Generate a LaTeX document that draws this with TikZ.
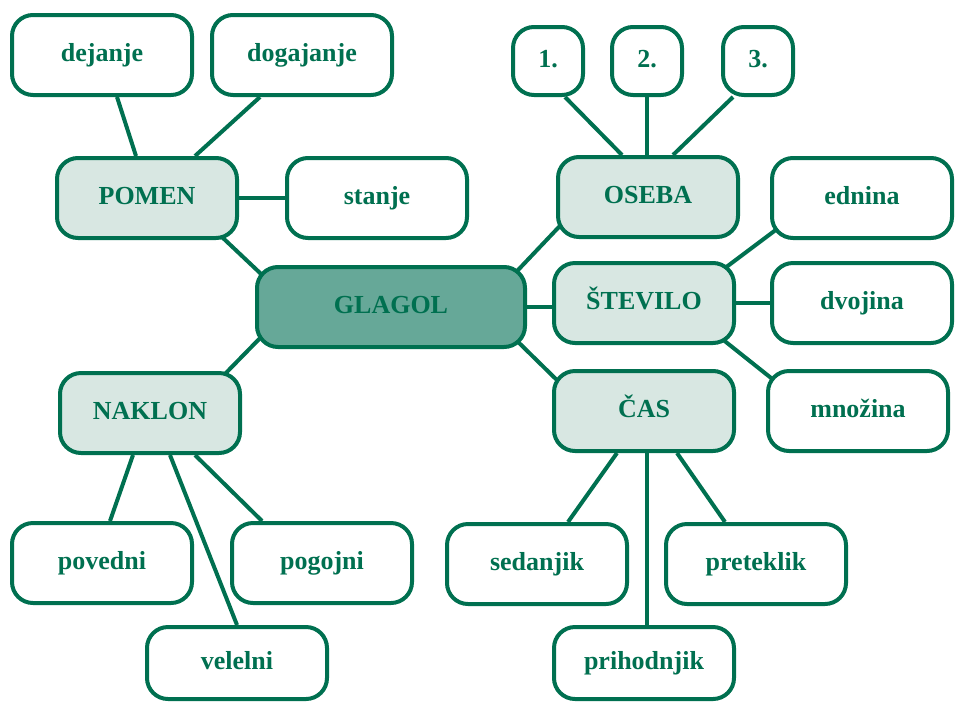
\documentclass[tikz,border=0pt]{standalone}
\usepackage{fontspec}
\setmainfont{Liberation Serif}
\usepackage{xcolor}
\usetikzlibrary{backgrounds}

\definecolor{glagolgreen}{RGB}{0,112,80}
\definecolor{rootfill}{RGB}{102,168,152}
\definecolor{catfill}{RGB}{216,231,226}

\begin{document}
\begin{tikzpicture}[x=1pt,y=-1pt]
    \useasboundingbox (0,0) rectangle (960,702);
    \begin{scope}[line width=4pt,
        box/.style={draw=glagolgreen,rounded corners=21pt,text=glagolgreen,
            font=\fontsize{26}{30}\selectfont\bfseries,
            text height=17pt,text depth=4pt,inner sep=0pt,
            minimum width=180pt,minimum height=80pt},
        leaf/.style={box,fill=white},
        cat/.style={box,fill=catfill},
        root/.style={box,fill=rootfill,minimum width=268pt},
        num/.style={leaf,minimum width=70pt,minimum height=68pt},
        link/.style={draw=glagolgreen,line width=4pt}]
    % Middle:
    \node [root] (glagol) at (391,307) {GLAGOL};

    % The four groups round it:
    \node [cat] (pomen)   at (147,198) {POMEN};
    \node [cat] (naklon)  at (150,413) {NAKLON};
    \node [cat] (oseba)   at (648,197) {OSEBA};
    \node [cat] (stevilo) at (644,303) {ŠTEVILO};
    \node [cat] (cas)     at (644,411) {ČAS};

    % POMEN:
    \node [leaf] (dejanje)   at (102,55)  {dejanje};
    \node [leaf] (dogajanje) at (302,55)  {dogajanje};
    \node [leaf] (stanje)    at (377,198) {stanje};

    % NAKLON:
    \node [leaf] (povedni) at (102,563) {povedni};
    \node [leaf] (pogojni) at (322,563) {pogojni};
    \node [leaf,minimum height=72pt] (velelni) at (237,663) {velelni};

    % OSEBA:
    \node [num] (prva)  at (548,61) {1.};
    \node [num] (druga) at (647,61) {2.};
    \node [num] (treta) at (758,61) {3.};

    % ŠTEVILO:
    \node [leaf] (ednina)  at (862,198) {ednina};
    \node [leaf] (dvojina) at (862,303) {dvojina};
    \node [leaf] (mnozina) at (858,411) {množina};

    % ČAS:
    \node [leaf] (sedanjik)   at (537,564) {sedanjik};
    \node [leaf] (preteklik)  at (756,564) {preteklik};
    \node [leaf,minimum height=72pt] (prihodnjik) at (644,663) {prihodnjik};

    % Connectors go behind the boxes:
    \begin{pgfonlayer}{background}
    \draw [link] ([xshift=15pt]dejanje.south) -- ([xshift=-11pt]pomen.north);
    \draw [link] ([xshift=-42pt]dogajanje.south) -- ([xshift=48pt]pomen.north);
    \draw [link] (pomen.east) -- (pomen.east -| stanje.west);
    \draw [link] ([shift={(-25,-10.5)}]pomen.south east) -- ([shift={(13,15.5)}]glagol.north west);
    \draw [link] ([shift={(11,-17)}]glagol.south west) -- ([shift={(-21,7)}]naklon.north east);

    \draw [link] ([xshift=-17pt]naklon.south) -- ([xshift=8pt]povedni.north);
    \draw [link] ([xshift=20pt]naklon.south) -- (velelni.north);
    \draw [link] ([xshift=45pt]naklon.south) -- ([xshift=-60pt]pogojni.north);

    \draw [link] ([shift={(-15,11.4)}]glagol.north east) -- ([shift={(8,-17.4)}]oseba.south west);
    \draw [link] (glagol.east) -- (glagol.east -| stevilo.west);
    \draw [link] ([shift={(-15,-13)}]glagol.south east) -- ([shift={(11,17)}]cas.north west);

    \draw [link] ([xshift=17pt]prva.south) -- ([xshift=-26pt]oseba.north);
    \draw [link] (druga.south) -- (druga.south |- oseba.north);
    \draw [link] ([xshift=-25pt]treta.south) -- ([xshift=25pt]oseba.north);

    \draw [link] ([shift={(-15,10)}]stevilo.north east) -- ([shift={(11,-14)}]ednina.south west);
    \draw [link] (stevilo.east) -- (stevilo.east -| dvojina.west);
    \draw [link] ([shift={(-17,-8.5)}]stevilo.south east) -- ([shift={(12,14.5)}]mnozina.north west);

    \draw [link] ([xshift=-27pt]cas.south) -- ([xshift=31pt]sedanjik.north);
    \draw [link] ([xshift=3pt]cas.south) -- ([xshift=3pt]cas.south |- prihodnjik.north);
    \draw [link] ([xshift=33pt]cas.south) -- ([xshift=-31pt]preteklik.north);
    \end{pgfonlayer}
    \end{scope}
\end{tikzpicture}
\end{document}
